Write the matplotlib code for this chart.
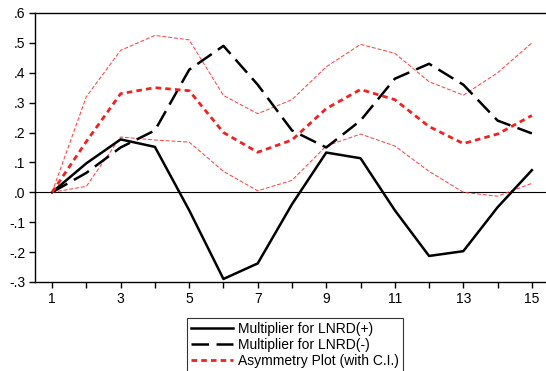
import matplotlib.pyplot as plt
import numpy as np

plt.rcParams['font.family'] = ['Liberation Sans', 'DejaVu Sans']

periods = np.arange(1, 16)
mult_pos = [0.0, 0.097, 0.177, 0.152, -0.06, -0.29, -0.238, -0.04, 0.133, 0.114,
            -0.06, -0.213, -0.197, -0.05, 0.074]
mult_neg = [0.0, 0.065, 0.15, 0.207, 0.41, 0.49, 0.36, 0.207, 0.15, 0.24,
            0.38, 0.43, 0.36, 0.24, 0.197]
asym = [0.0, 0.17, 0.33, 0.35, 0.34, 0.20, 0.134, 0.175, 0.28, 0.344,
        0.31, 0.22, 0.163, 0.195, 0.257]
asym_upper = [0.0, 0.32, 0.475, 0.525, 0.51, 0.324, 0.263, 0.31, 0.42, 0.495,
              0.465, 0.37, 0.325, 0.40, 0.50]
asym_lower = [0.0, 0.02, 0.185, 0.175, 0.168, 0.07, 0.005, 0.04, 0.155, 0.195,
              0.155, 0.07, 0.0, -0.013, 0.03]

yticks = [-0.3, -0.2, -0.1, 0.0, 0.1, 0.2, 0.3, 0.4, 0.5, 0.6]
ytick_labels = ['-.3', '-.2', '-.1', '.0', '.1', '.2', '.3', '.4', '.5', '.6']

fig = plt.figure(figsize=(5.46, 3.71), dpi=100)
ax = fig.add_axes([0.064, 0.24, 0.9415, 0.725])

ax.axhline(0, color='black', lw=0.8)
ax.plot(periods, asym_upper, color='#ff3b3b', lw=0.7, ls=(0, (4, 2)))
ax.plot(periods, asym_lower, color='#ff3b3b', lw=0.7, ls=(0, (4, 2)))
l1, = ax.plot(periods, mult_pos, color='black', lw=1.8)
l2, = ax.plot(periods, mult_neg, color='black', lw=1.8, ls=(0, (7, 3)))
l3, = ax.plot(periods, asym, color='#ee2222', lw=2.0, ls=(0, (2, 1.5)))

ax.set_xlim(0.5, 15.5)
ax.set_ylim(-0.3, 0.6)
ax.set_xticks(periods)
ax.set_xticklabels([str(p) if p % 2 == 1 else '' for p in periods])
ax.set_yticks(yticks)
ax.set_yticklabels(ytick_labels)
ax.tick_params(direction='out', length=4, width=1, labelsize=10, pad=3)
for s in ax.spines.values():
    s.set_linewidth(1.0)

leg = fig.legend([l1, l2, l3],
                 ['Multiplier for LNRD(+)', 'Multiplier for LNRD(-)',
                  'Asymmetry Plot (with C.I.)'],
                 loc='upper center', bbox_to_anchor=(295 / 546, 1 - 318 / 371),
                 fontsize=10, frameon=True, fancybox=False, handlelength=3.0,
                 borderpad=0.3, labelspacing=0.12, handletextpad=0.4,
                 borderaxespad=0)
leg.get_frame().set_edgecolor('black')
leg.get_frame().set_linewidth(0.8)

fig.savefig('out.png', dpi=100)
